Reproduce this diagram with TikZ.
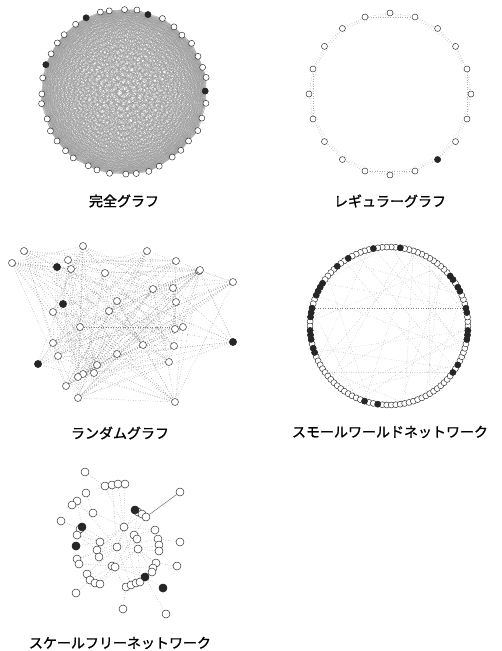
\documentclass[tikz,border=0pt]{standalone}
\usepackage{fontspec}
\newfontfamily\jp[FakeBold=1.2]{Noto Sans CJK JP}
\pgfdeclarelayer{bg}
\pgfsetlayers{bg,main}
\begin{document}
\begin{tikzpicture}[x=1pt,y=-1pt,
  vtx/.style={circle,draw=black!85,fill=white,inner sep=0pt,minimum size=6pt,line width=0.45pt},
  bvtx/.style={vtx,fill=black!85},
  rvtx/.style={vtx,minimum size=7pt},
  rbvtx/.style={rvtx,fill=black!85},
  fvtx/.style={vtx,minimum size=8pt},
  fbvtx/.style={fvtx,fill=black!85},
  cedge/.style={black!40,line width=0.2pt},
  dedge/.style={black!50,dotted,line width=0.45pt},
  sedge/.style={black!60,line width=0.45pt},
  lbl/.style={font=\jp\fontsize{14}{14}\selectfont,inner sep=0pt}]
\useasboundingbox (0,0) rectangle (502,651);

% ---------- complete graph ----------
\pgfmathsetseed{3}
\foreach \k in {0,...,39}{
  \pgfmathsetmacro\rad{81+2.5*rnd}
  \pgfmathsetmacro\ang{9*\k+1.6*rand}
  \node[vtx] (c\k) at ({124+\rad*cos(\ang)},{92-\rad*sin(\ang)}) {};
}
\foreach \k in {0,8,13,18}{\node[bvtx] at (c\k) {};}
\begin{pgfonlayer}{bg}
\foreach \i in {0,...,38}{
  \pgfmathtruncatemacro\a{\i+1}
  \foreach \j in {\a,...,39}{\draw[cedge] (c\i.center) -- (c\j.center);}
}
\end{pgfonlayer}
\node[lbl] (l1) at (124,201) {完全グラフ};

% ---------- regular graph ----------
\foreach \k in {0,...,19}{
  \node[vtx] (g\k) at ({390+81*cos(90-18*\k)},{94-81*sin(90-18*\k)}) {};
}
\node[bvtx] at (g8) {};
\begin{pgfonlayer}{bg}
\foreach \k in {0,...,19}{
  \pgfmathtruncatemacro\m{mod(\k+1,20)}
  \pgfmathtruncatemacro\n{mod(\k+2,20)}
  \draw[dedge] (g\k) -- (g\m);
  \draw[dedge,black!30] (g\k) -- (g\n);
}
\end{pgfonlayer}
\node[lbl] (l2) at (390,201) {レギュラーグラフ};

% ---------- random graph ----------
\foreach [count=\i] \p/\q in {24/251,12/263,83/246,147/251,68/260,57/267,71/269,176/261,199/271,233/282,
  105/273,153/289,173/288,63/304,53/312,117/301,109/311,176/302,80/327,175/329,
  183/327,233/342,53/343,143/345,174/346,117/354,58/356,38/364,169/362,97/365,
  83/374,78/377,66/386,94/373,78/398,175/402,200/270}{
  \node[rvtx] (r\i) at (\p,\q) {};
}
\foreach \i in {6,14,22,28}{\node[rbvtx] at (r\i) {};}
\begin{pgfonlayer}{bg}
\pgfmathsetseed{11}
\foreach \i in {1,...,36}{
  \pgfmathtruncatemacro\a{\i+1}
  \foreach \j in {\a,...,37}{
    \pgfmathsetmacro\rr{rnd}
    \ifdim\rr pt<0.3pt \draw[dedge] (r\i) -- (r\j);\fi
  }
}
\end{pgfonlayer}
\node[lbl] (l3) at (120,433) {ランダムグラフ};

% ---------- small world ----------
\foreach \k in {0,...,109}{
  \node[vtx] (s\k) at ({389+79*cos(360/110*\k)},{326-79*sin(360/110*\k)}) {};
}
\foreach \k in {3,4,8,9,11,12,25,31,37,40,45,46,47,48,51,52,53,56,57,58,60,61,77,80,99,101,107,108,109}{
  \node[bvtx] at (s\k) {};
}
\begin{pgfonlayer}{bg}
\foreach \k in {0,...,109}{
  \pgfmathtruncatemacro\n{mod(\k+2,110)}
  \draw[dedge,black!30] (s\k) -- (s\n);
}
\pgfmathsetseed{5}
\foreach \k in {0,...,109}{
  \pgfmathsetmacro\rr{rnd}
  \ifdim\rr pt<0.3pt
    \pgfmathtruncatemacro\m{mod(\k+15+int(rnd*80),110)}
    \draw[dedge,black!35] (s\k) -- (s\m);
  \fi
}
\draw[dedge] (s4) -- (s51);
\draw[dedge] (s99) -- (s66);
\draw[dedge] (s18) -- (s92);
\end{pgfonlayer}
\node[lbl] (l4) at (390,432) {スモールワールドネットワーク};

% ---------- scale-free ----------
\foreach [count=\i] \p/\q in {85/472,105/486,112/485,118/484,125/484,180/492,86/493,77/501,72/505,93/513,
  135/510,138/512,142/514,146/517,61/521,82/527,80/529,124/527,77/535,155/530,
  134/535,137/539,158/539,180/542,100/542,76/546,117/547,159/545,138/549,97/550,
  99/557,159/551,77/559,79/564,156/563,153/568,112/566,115/567,177/566,152/572,
  87/574,90/580,95/583,100/584,145/577,126/587,131/585,136/583,140/582,163/588,
  76/593,123/609,166/614}{
  \node[fvtx] (f\i) at (\p,\q) {};
}
\foreach \i in {11,16,26,45,50}{\node[fbvtx] at (f\i) {};}
\begin{pgfonlayer}{bg}
\draw[sedge] (f6) -- (f14);
\foreach \a/\b in {1/2,4/18,5/18,7/10,8/27,9/10,15/17,16/27,19/27,26/25,33/30,34/37,41/27,43/38,51/42,
  52/46,53/45,50/45,39/35,24/23,20/21,28/29,32/27,36/38,40/29,12/21,13/18,11/27,10/18,3/27,
  17/25,22/30,21/38,44/29,47/27,48/18,49/29,46/37,31/27,25/18,30/18,35/29,23/27,14/21,45/38,
  29/37,27/18,2/18,8/16,19/30,33/27,42/37,37/18,20/18,44/37}{
  \draw[dedge] (f\a) -- (f\b);
}
\end{pgfonlayer}
\node[lbl] (l5) at (120,643) {スケールフリーネットワーク};
\end{tikzpicture}
\end{document}
